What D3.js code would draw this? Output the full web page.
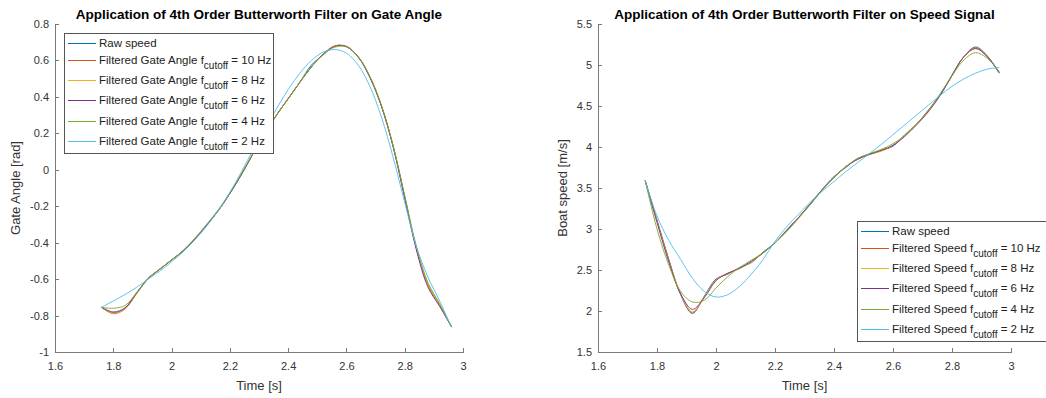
<!DOCTYPE html>
<html lang="en">
<head>
    <meta charset="UTF-8">
    <title>Butterworth filter on gate angle and speed</title>
    <style>
        html, body {
            margin: 0;
            padding: 0;
            background: #fff;
            overflow: hidden;
        }
        svg {
            display: block;
            font-family: "Liberation Sans", Arial, sans-serif;
        }
        .axis path, .axis line {
            stroke: #7a7a7a;
            shape-rendering: crispEdges;
        }
        .axis text {
            fill: #333;
            font-size: 11px;
        }
        .title {
            font-size: 13.5px;
            font-weight: bold;
            text-anchor: middle;
            fill: #000;
        }
        .axis-label {
            font-size: 13px;
            text-anchor: middle;
            fill: #333;
        }
        .legend text {
            font-size: 11.5px;
            fill: #222;
        }
        .series {
            fill: none;
            stroke-width: 0.9;
        }
    </style>
    <script src="https://d3js.org/d3.v7.min.js"></script>
</head>
<body>
<svg width="1046" height="398"></svg>
<script>
    // sample times [s], shared by both panels
    var time = [1.76, 1.80, 1.84, 1.88, 1.92, 1.96, 2.00, 2.04, 2.08, 2.12, 2.16, 2.20, 2.24, 2.28, 2.32, 2.36,
                2.40, 2.44, 2.48, 2.52, 2.56, 2.60, 2.64, 2.68, 2.72, 2.76, 2.80, 2.84, 2.88, 2.92, 2.96];

    // gate angle [rad]
    var gateRaw = [-0.755, -0.785, -0.76, -0.675, -0.595, -0.545, -0.495, -0.445, -0.38, -0.305, -0.225, -0.13, -0.025, 0.09, 0.20, 0.30,
                   0.39, 0.48, 0.575, 0.63, 0.68, 0.675, 0.62, 0.51, 0.35, 0.13, -0.15, -0.43, -0.635, -0.745, -0.86];
    var gate10 = [-0.755, -0.79, -0.765, -0.68, -0.598, -0.545, -0.495, -0.445, -0.38, -0.305, -0.225, -0.13, -0.025, 0.09, 0.20, 0.30,
                  0.39, 0.48, 0.565, 0.635, 0.68, 0.678, 0.62, 0.51, 0.35, 0.13, -0.15, -0.43, -0.63, -0.74, -0.86];
    var gate8 = [-0.755, -0.788, -0.763, -0.678, -0.597, -0.545, -0.495, -0.445, -0.38, -0.305, -0.225, -0.13, -0.025, 0.09, 0.20, 0.30,
                 0.39, 0.48, 0.565, 0.635, 0.679, 0.677, 0.62, 0.51, 0.35, 0.13, -0.15, -0.43, -0.632, -0.742, -0.86];
    var gate6 = [-0.755, -0.78, -0.758, -0.676, -0.596, -0.545, -0.495, -0.445, -0.38, -0.305, -0.225, -0.13, -0.025, 0.09, 0.20, 0.30,
                 0.39, 0.48, 0.565, 0.634, 0.677, 0.676, 0.62, 0.51, 0.35, 0.13, -0.155, -0.44, -0.645, -0.75, -0.86];
    var gate4 = [-0.755, -0.76, -0.745, -0.675, -0.595, -0.545, -0.495, -0.442, -0.375, -0.30, -0.22, -0.125, -0.02, 0.092, 0.20, 0.30,
                 0.39, 0.48, 0.565, 0.632, 0.673, 0.675, 0.622, 0.515, 0.355, 0.135, -0.14, -0.42, -0.62, -0.735, -0.86];
    var gate2 = [-0.755, -0.72, -0.685, -0.645, -0.60, -0.555, -0.505, -0.45, -0.385, -0.31, -0.225, -0.125, -0.01, 0.11, 0.225, 0.335,
                 0.44, 0.53, 0.60, 0.645, 0.66, 0.64, 0.575, 0.46, 0.29, 0.07, -0.18, -0.42, -0.59, -0.72, -0.865];

    // boat speed [m/s]
    var speedRaw = [3.59, 3.11, 2.63, 2.20, 1.97, 2.18, 2.39, 2.45, 2.53, 2.59, 2.72, 2.83, 2.99, 3.14, 3.30, 3.48,
                    3.64, 3.75, 3.86, 3.91, 3.96, 4.01, 4.15, 4.28, 4.45, 4.63, 4.88, 5.10, 5.22, 5.11, 4.90];
    var speed10 = [3.59, 3.10, 2.62, 2.21, 1.98, 2.17, 2.38, 2.46, 2.52, 2.60, 2.71, 2.83, 2.98, 3.14, 3.31, 3.48,
                   3.63, 3.76, 3.85, 3.91, 3.95, 4.02, 4.14, 4.28, 4.44, 4.64, 4.87, 5.10, 5.21, 5.10, 4.90];
    var speed8 = [3.59, 3.09, 2.61, 2.21, 1.99, 2.17, 2.38, 2.46, 2.52, 2.60, 2.71, 2.83, 2.98, 3.14, 3.31, 3.48,
                  3.63, 3.76, 3.85, 3.91, 3.95, 4.02, 4.14, 4.28, 4.44, 4.64, 4.87, 5.10, 5.20, 5.10, 4.91];
    var speed6 = [3.59, 3.08, 2.60, 2.21, 2.02, 2.16, 2.37, 2.46, 2.52, 2.61, 2.71, 2.83, 2.98, 3.14, 3.31, 3.48,
                  3.63, 3.76, 3.85, 3.91, 3.96, 4.02, 4.13, 4.27, 4.43, 4.63, 4.87, 5.10, 5.20, 5.10, 4.91];
    var speed4 = [3.59, 3.00, 2.56, 2.24, 2.11, 2.13, 2.28, 2.42, 2.53, 2.62, 2.71, 2.83, 2.97, 3.13, 3.30, 3.47,
                  3.63, 3.76, 3.86, 3.92, 3.97, 4.04, 4.14, 4.28, 4.45, 4.65, 4.87, 5.06, 5.15, 5.08, 4.92];
    var speed2 = [3.59, 3.16, 2.86, 2.63, 2.40, 2.24, 2.17, 2.20, 2.30, 2.45, 2.63, 2.85, 3.03, 3.18, 3.33, 3.46,
                  3.58, 3.70, 3.81, 3.92, 4.03, 4.15, 4.27, 4.39, 4.51, 4.63, 4.74, 4.83, 4.90, 4.95, 4.97];

    // ticks
    var xTicks = [1.6, 1.8, 2, 2.2, 2.4, 2.6, 2.8, 3];
    var gateTicks = [-1, -0.8, -0.6, -0.4, -0.2, 0, 0.2, 0.4, 0.6, 0.8];
    var speedTicks = [1.5, 2, 2.5, 3, 3.5, 4, 4.5, 5, 5.5];

    // legend: cut-off frequencies of the filtered series, then series colours (raw first)
    var cutoffs = ["10", "8", "6", "4", "2"];
    var colors = ["#0072BD", "#D95319", "#EDB120", "#7E2F8E", "#77AC30", "#4DBEEE"];

    var svg = d3.select("svg");
    svg.append("rect").attr("width", 1046).attr("height", 398).attr("fill", "#fff");

    function fmt(v) {
        return String(v);
    }

    function drawPanel(cfg) {
        var x = d3.scaleLinear().domain([1.6, 3]).range([cfg.left, cfg.right]);
        var y = d3.scaleLinear().domain(cfg.yDomain).range([cfg.bottom, cfg.top]);

        var g = svg.append("g");

        g.append("g")
            .attr("class", "axis")
            .attr("transform", "translate(0," + cfg.bottom + ")")
            .call(d3.axisBottom(x).tickValues(xTicks).tickFormat(fmt)
                .tickSizeInner(-4).tickSizeOuter(0).tickPadding(10));

        g.append("g")
            .attr("class", "axis")
            .attr("transform", "translate(" + cfg.left + ",0)")
            .call(d3.axisLeft(y).tickValues(cfg.yTicks).tickFormat(fmt)
                .tickSizeInner(-4).tickSizeOuter(0).tickPadding(6));

        var line = d3.line()
            .x(function(d) { return x(d[0]); })
            .y(function(d) { return y(d[1]); })
            .curve(d3.curveCatmullRom.alpha(0.5));

        cfg.series.forEach(function(s, i) {
            g.append("path")
                .attr("class", "series")
                .attr("stroke", colors[i])
                .attr("d", line(time.map(function(t, k) { return [t, s[k]]; })));
        });

        g.append("text")
            .attr("class", "title")
            .attr("x", (cfg.left + cfg.right) / 2)
            .attr("y", 19)
            .text(cfg.title);

        g.append("text")
            .attr("class", "axis-label")
            .attr("x", (cfg.left + cfg.right) / 2)
            .attr("y", 390)
            .text("Time [s]");

        g.append("text")
            .attr("class", "axis-label")
            .attr("transform", "translate(" + cfg.yLabelX + "," + (cfg.top + cfg.bottom) / 2 + ") rotate(-90)")
            .text(cfg.yLabel);

        // legend
        var lg = g.append("g").attr("class", "legend")
            .attr("transform", "translate(" + cfg.legendX + "," + cfg.legendY + ")");
        lg.append("rect")
            .attr("x", 0.5).attr("y", 0.5)
            .attr("width", cfg.legendW).attr("height", 120)
            .attr("fill", "#fff").attr("stroke", "#555").attr("stroke-width", 1);

        var rowY = [10.5, 27.5, 47.5, 67.5, 88.5, 108.5];
        var labels = [["Raw speed", "", ""]].concat(cutoffs.map(function(c) {
            return [cfg.legendPrefix + " f", "cutoff", " = " + c + " Hz"];
        }));
        labels.forEach(function(lab, i) {
            lg.append("line")
                .attr("x1", 4).attr("x2", 32)
                .attr("y1", rowY[i]).attr("y2", rowY[i])
                .attr("stroke", colors[i]).attr("stroke-width", 1);
            var t = lg.append("text").attr("x", 35).attr("y", rowY[i] + 3.5);
            t.append("tspan").text(lab[0]);
            if (lab[1]) {
                t.append("tspan").attr("dy", 4.5).attr("font-size", "10px").text(lab[1]);
                t.append("tspan").attr("dy", -4.5).text(lab[2]);
            }
        });
    }

    drawPanel({
        left: 55, right: 463, top: 24, bottom: 352,
        yDomain: [-1, 0.8], yTicks: gateTicks,
        series: [gateRaw, gate10, gate8, gate6, gate4, gate2],
        title: "Application of 4th Order Butterworth Filter on Gate Angle",
        yLabel: "Gate Angle [rad]", yLabelX: 20,
        legendX: 64, legendY: 33, legendW: 209,
        legendPrefix: "Filtered Gate Angle"
    });

    drawPanel({
        left: 598, right: 1011, top: 24, bottom: 352,
        yDomain: [1.5, 5.5], yTicks: speedTicks,
        series: [speedRaw, speed10, speed8, speed6, speed4, speed2],
        title: "Application of 4th Order Butterworth Filter on Speed Signal",
        yLabel: "Boat speed [m/s]", yLabelX: 567,
        legendX: 857, legendY: 221, legendW: 200,
        legendPrefix: "Filtered Speed"
    });
</script>
</body>
</html>
